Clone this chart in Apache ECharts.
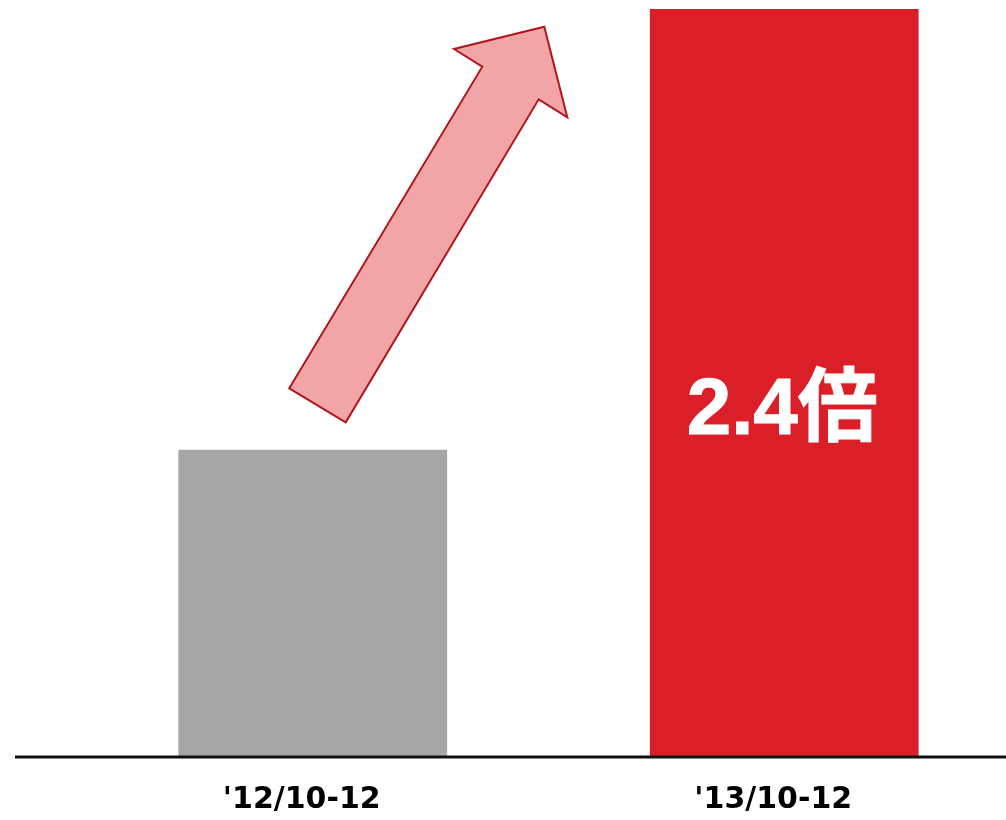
<!DOCTYPE html>
<html>
<head>
<meta charset="utf-8">
<style>
  html, body { margin: 0; padding: 0; background: #ffffff; }
  #chart { width: 1006px; height: 820px; }
</style>
<script src="https://cdn.jsdelivr.net/npm/echarts@6/dist/echarts.min.js"></script>
</head>
<body>
<div id="chart"></div>
<script>
// Period labels and sales index (first period = 100)
const categories = ["'12/10-12", "'13/10-12"];
const values = [100, 244];
const barColors = ['#a6a6a6', '#da1f28'];

// Growth multiple shown inside the second bar
const ratioText = (values[1] / values[0]).toFixed(1) + '倍';

const chart = echarts.init(document.getElementById('chart'), null, { renderer: 'canvas' });

const option = {
  animation: false,
  backgroundColor: '#ffffff',
  grid: {
    left: 77, width: 943, top: 9, bottom: 64,
    containLabel: false,
    outerBoundsMode: 'none'
  },
  xAxis: {
    type: 'category',
    data: categories,
    axisLine: { show: false },
    axisTick: { show: false },
    axisLabel: {
      margin: 29,
      color: '#000000',
      fontFamily: 'DejaVu Sans',
      fontWeight: 'bold',
      fontSize: 30,
      padding: [0, 22, 0, 0]
    }
  },
  yAxis: {
    type: 'value',
    min: 0,
    max: values[1],
    show: false,
    splitLine: { show: false }
  },
  series: [{
    type: 'bar',
    barWidth: '57%',
    data: values.map((v, i) => ({
      value: v,
      itemStyle: { color: barColors[i] },
      label: i === 1 ? {
        show: true,
        position: 'inside',
        offset: [-2, 29],
        formatter: ratioText,
        color: '#ffffff',
        fontFamily: '"Liberation Sans", "Noto Sans CJK JP", sans-serif',
        fontWeight: 'bold',
        fontSize: 80,
        textBorderColor: '#ffffff',
        textBorderWidth: 1
      } : { show: false }
    }))
  }]
};

chart.setOption(option);

// Baseline across the full width and the rising arrow between the bars
const baseY = chart.convertToPixel({ gridIndex: 0 }, [0, 0])[1] + 1;
chart.setOption({
  graphic: [
    {
      type: 'line',
      shape: { x1: 15, y1: baseY, x2: 1006, y2: baseY },
      style: { stroke: '#111111', lineWidth: 3 },
      z: 10
    },
    {
      type: 'polygon',
      shape: {
        points: [
          [289.3, 388.3],
          [482.3, 66.7],
          [454, 49],
          [544.3, 26.7],
          [567.3, 117.3],
          [538.7, 99.3],
          [345.7, 422.3]
        ]
      },
      style: { fill: '#f2a5a7', stroke: '#b0161e', lineWidth: 2 },
      z: 10
    }
  ]
});
</script>
</body>
</html>
